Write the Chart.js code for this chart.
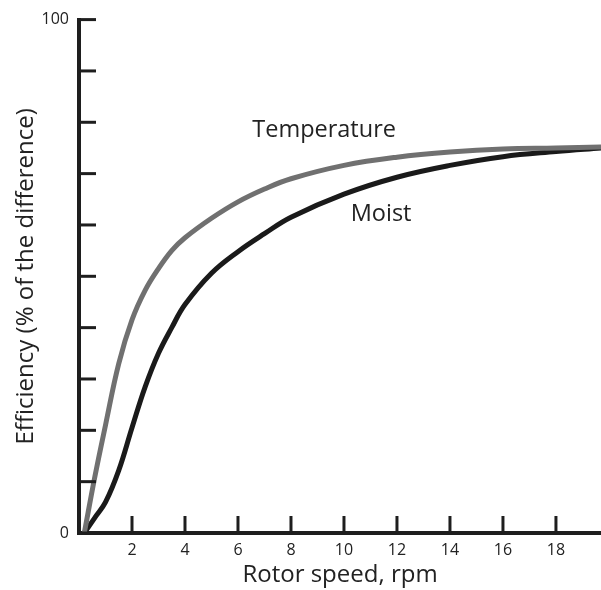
<!DOCTYPE html>
<html>
<head>
<meta charset="utf-8">
<script src="https://cdn.jsdelivr.net/npm/chart.js@4.4.1/dist/chart.umd.min.js"></script>
<style>
  body { margin: 0; background: #fff; }
  #wrap { width: 601px; height: 590px; }
</style>
</head>
<body>
<div id="wrap"><canvas id="rotorChart" width="601" height="590"></canvas></div>
<script>
const speed = [0.2, 0.6, 1.0, 1.5, 2.0, 2.5, 3.0, 3.5, 4.0, 5.0, 6.0, 7.0, 8.0, 10, 12, 14, 16, 18, 19.7]
const temperature = [0, 11, 21, 33, 41.5, 47.3, 51.5, 55, 57.5, 61.3, 64.5, 67, 69, 71.6, 73.2, 74.2, 74.8, 75, 75.2]
const moist = [0, 3, 6, 12.2, 20.5, 28.5, 35, 40, 44.5, 50.6, 54.8, 58.3, 61.5, 66, 69.3, 71.6, 73.3, 74.3, 75]
const xTicks = [2, 4, 6, 8, 10, 12, 14, 16, 18]
const yMarks = [0, 10, 20, 30, 40, 50, 60, 70, 80, 90, 100]
const yLabels = [0, 100]
const notes = [
  { text: 'Temperature', x: 9.25, y: 78.5 },
  { text: 'Moist', x: 11.4, y: 62 }
]

const ink = '#1e1e1e'
const font = '"Open Sans", "Noto Sans", sans-serif'

// tick marks point inward, so draw them ourselves from the scales
const innerTicks = {
  id: 'innerTicks',
  afterDraw(chart) {
    const { ctx, chartArea, scales } = chart
    ctx.save()
    ctx.strokeStyle = ink
    ctx.lineWidth = 3
    yMarks.forEach(v => {
      const py = scales.y.getPixelForValue(v)
      ctx.beginPath()
      ctx.moveTo(chartArea.left, py)
      ctx.lineTo(chartArea.left + 17, py)
      ctx.stroke()
    })
    xTicks.forEach(v => {
      const px = scales.x.getPixelForValue(v)
      ctx.beginPath()
      ctx.moveTo(px, chartArea.bottom)
      ctx.lineTo(px, chartArea.bottom - 17)
      ctx.stroke()
    })
    ctx.fillStyle = '#222'
    ctx.font = '23.5px ' + font
    ctx.textAlign = 'center'
    ctx.textBaseline = 'middle'
    notes.forEach(n => {
      ctx.fillText(n.text, scales.x.getPixelForValue(n.x), scales.y.getPixelForValue(n.y))
    })
    ctx.restore()
  }
}

new Chart(document.getElementById('rotorChart'), {
  type: 'line',
  data: {
    datasets: [{
      label: 'Temperature',
      data: speed.map((s, i) => ({ x: s, y: temperature[i] })),
      borderColor: '#707070',
      borderWidth: 5,
      pointRadius: 0,
      tension: 0.4,
      clip: false
    }, {
      label: 'Moist',
      data: speed.map((s, i) => ({ x: s, y: moist[i] })),
      borderColor: '#1a1a1a',
      borderWidth: 5,
      pointRadius: 0,
      tension: 0.4,
      clip: false
    }]
  },
  options: {
    responsive: false,
    animation: false,
    layout: { padding: { top: 17, right: 0 } },
    plugins: {
      legend: { display: false },
      tooltip: { enabled: false }
    },
    scales: {
      x: {
        type: 'linear',
        min: 0,
        max: 19.7,
        afterBuildTicks: scale => { scale.ticks = xTicks.map(v => ({ value: v })) },
        afterFit: scale => { scale.height = 57 },
        grid: { display: false, drawTicks: false },
        border: { color: ink, width: 4 },
        ticks: {
          color: '#222',
          padding: 8,
          maxRotation: 0,
          font: { family: font, size: 16 }
        },
        title: {
          display: true,
          text: 'Rotor speed, rpm',
          color: '#222',
          padding: { top: 0, bottom: 0 },
          font: { family: font, size: 24 }
        }
      },
      y: {
        min: 0,
        max: 100,
        afterBuildTicks: scale => { scale.ticks = yLabels.map(v => ({ value: v })) },
        afterFit: scale => { scale.width = 79 },
        grid: { display: false, drawTicks: false },
        border: { color: ink, width: 4 },
        ticks: {
          color: '#222',
          padding: 10,
          font: { family: font, size: 16 }
        },
        title: {
          display: true,
          text: 'Efficiency (% of the difference)',
          color: '#222',
          padding: { top: 12, bottom: 0 },
          font: { family: font, size: 24 }
        }
      }
    }
  },
  plugins: [innerTicks]
})
</script>
</body>
</html>
